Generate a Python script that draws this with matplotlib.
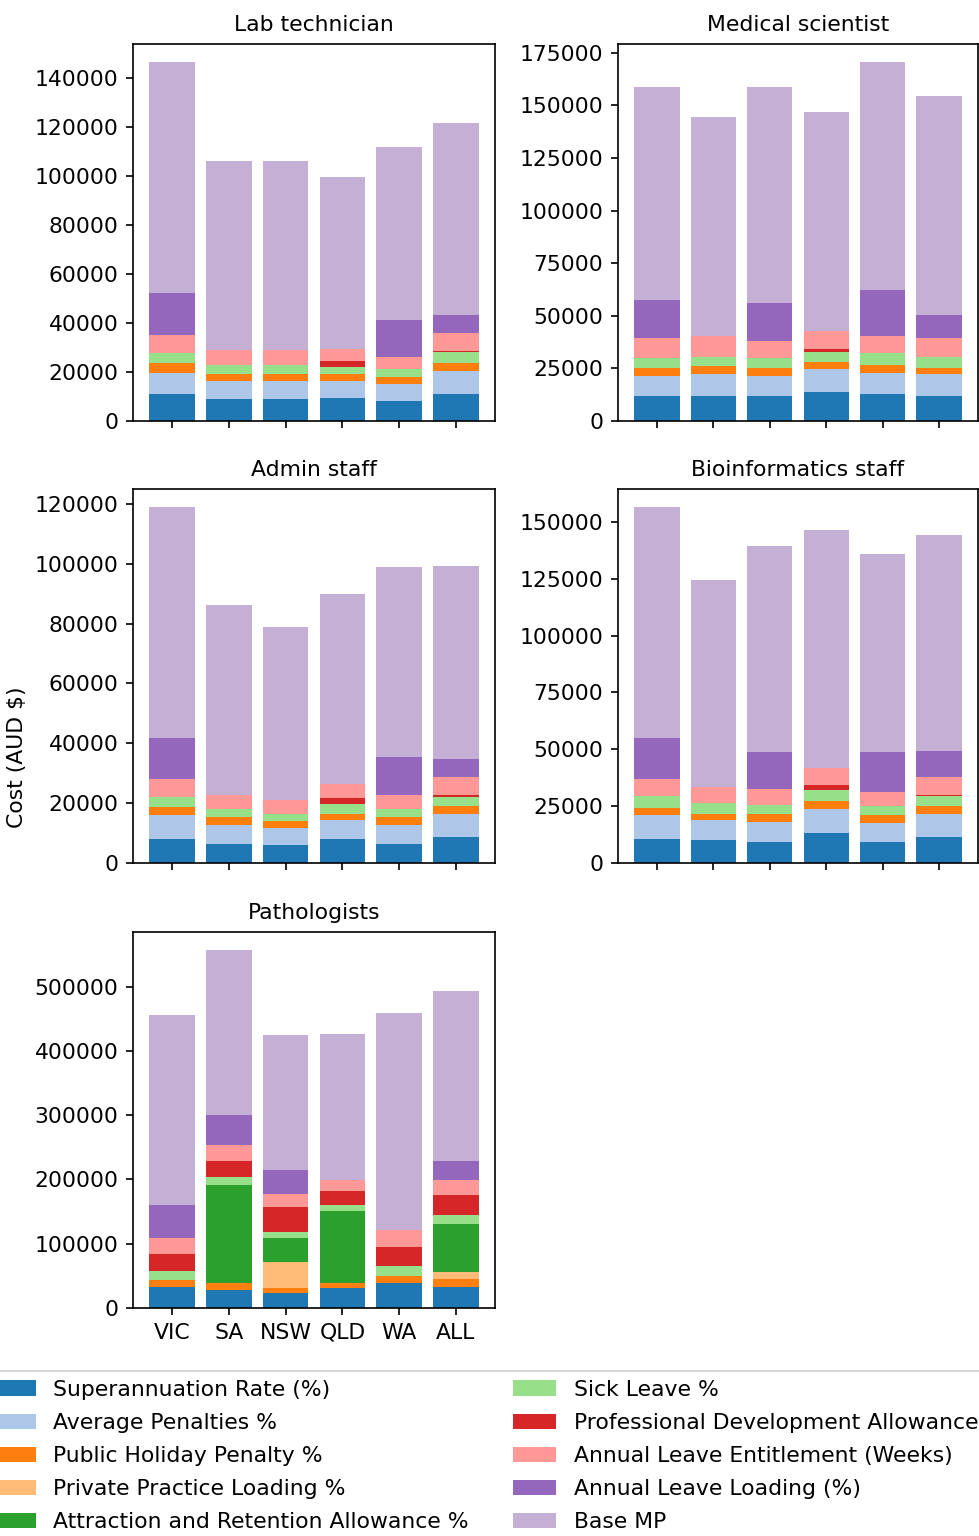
import numpy as np
import matplotlib
matplotlib.use("Agg")
import matplotlib.pyplot as plt

plt.rcParams["font.size"] = 10.5
plt.rcParams["axes.titlesize"] = 10.5

states = ["VIC", "SA", "NSW", "QLD", "WA", "ALL"]

components = ["Superannuation Rate (%)", "Average Penalties %", "Public Holiday Penalty %",
              "Private Practice Loading %", "Attraction and Retention Allowance %", "Sick Leave %",
              "Professional Development Allowance", "Annual Leave Entitlement (Weeks)",
              "Annual Leave Loading (%)", "Base MP"]

# one row per component (same order as components), one column per state
lab_tech = [
    [10900, 9000, 9000, 9500, 8200, 10900],
    [8800, 7500, 7500, 7000, 7000, 9600],
    [4000, 2700, 2700, 2700, 2800, 3200],
    [0, 0, 0, 0, 0, 0],
    [0, 0, 0, 0, 0, 0],
    [3900, 3800, 3800, 3000, 3100, 4300],
    [0, 0, 0, 2300, 0, 700],
    [7600, 5800, 5800, 4900, 5000, 7200],
    [16900, 0, 0, 0, 15000, 7200],
    [94400, 77300, 77300, 70200, 70700, 78500],
]

med_sci = [
    [11700, 11700, 11700, 13900, 12700, 11700],
    [9800, 10500, 9800, 10700, 10300, 10500],
    [3800, 3800, 3800, 3600, 3800, 3100],
    [0, 0, 0, 0, 0, 0],
    [0, 0, 0, 0, 0, 0],
    [4500, 4400, 4500, 4600, 5400, 5100],
    [0, 0, 0, 1400, 0, 0],
    [9800, 10000, 8200, 8400, 8100, 9200],
    [17900, 0, 18100, 0, 21800, 10700],
    [101300, 104200, 102700, 104300, 108600, 104200],
]

admin = [
    [8000, 6400, 5900, 8000, 6400, 8600],
    [7900, 6300, 5800, 6300, 6300, 7800],
    [2700, 2600, 2200, 2100, 2600, 2700],
    [0, 0, 0, 0, 0, 0],
    [0, 0, 0, 0, 0, 0],
    [3600, 2700, 2500, 3200, 2700, 3100],
    [0, 0, 0, 2200, 0, 600],
    [5800, 4800, 4800, 4600, 4800, 5800],
    [13700, 0, 0, 0, 12600, 6300],
    [77300, 63500, 57800, 63600, 63600, 64400],
]

bioinf = [
    [10500, 10000, 9200, 13300, 9200, 11300],
    [10400, 8900, 8900, 10400, 8200, 10300],
    [3500, 2700, 3500, 3500, 3500, 3500],
    [0, 0, 0, 0, 0, 0],
    [0, 0, 0, 0, 0, 0],
    [4900, 4800, 4100, 4800, 4200, 4200],
    [0, 0, 0, 2100, 0, 700],
    [7500, 6900, 6900, 7700, 6200, 7600],
    [18000, 0, 16100, 0, 17400, 11800],
    [101800, 91300, 90800, 104700, 87300, 94900],
]

patho = [
    [33000, 28400, 23700, 31000, 38200, 33000],
    [0, 0, 0, 0, 0, 0],
    [9800, 9800, 7300, 7200, 11800, 12400],
    [0, 0, 41300, 0, 0, 9900],
    [0, 153800, 36500, 112400, 0, 75800],
    [14500, 11900, 9900, 9900, 15000, 14400],
    [27300, 25200, 39200, 22200, 29400, 29900],
    [24200, 24300, 19700, 16500, 26800, 24300],
    [51700, 46900, 37100, 0, 0, 29400],
    [296200, 257000, 209400, 228000, 338600, 264700],
]

colors = plt.cm.tab20.colors[:10]

W, H = 979, 1536
fig = plt.figure(figsize=(W / 150, H / 150), dpi=150)

def box(l, t, r, b):
    return [l / W, 1 - b / H, (r - l) / W, (b - t) / H]

panels = [
    ("Lab technician", lab_tech, box(133, 44, 495, 421), 20000),
    ("Medical scientist", med_sci, box(618, 44, 978, 421), 25000),
    ("Admin staff", admin, box(133, 489, 495, 863), 20000),
    ("Bioinformatics staff", bioinf, box(618, 489, 978, 863), 25000),
    ("Pathologists", patho, box(133, 932, 495, 1308), 100000),
]

x = np.arange(len(states))
for title, data, pos, step in panels:
    ax = fig.add_axes(pos)
    bottom = np.zeros(len(states))
    for name, vals, c in zip(components, data, colors):
        ax.bar(x, vals, 0.8, bottom=bottom, color=c, label=name)
        bottom += np.array(vals)
    ax.set_title(title, pad=6.3)
    ax.set_xticks(x)
    ax.yaxis.set_major_locator(plt.MultipleLocator(step))
    if title == "Pathologists":
        ax.set_xticklabels(states)
        handles, labels = ax.get_legend_handles_labels()
    else:
        ax.set_xticklabels([])

fig.text(17 / W, 1 - 757 / H, "Cost (AUD $)", rotation=90, va="center", ha="center")

fig.legend(handles, labels, loc="upper center", bbox_to_anchor=(0.4955, 1 - 1360 / H),
           ncol=2, labelspacing=0.6)

fig.savefig("out.png", dpi=150)
